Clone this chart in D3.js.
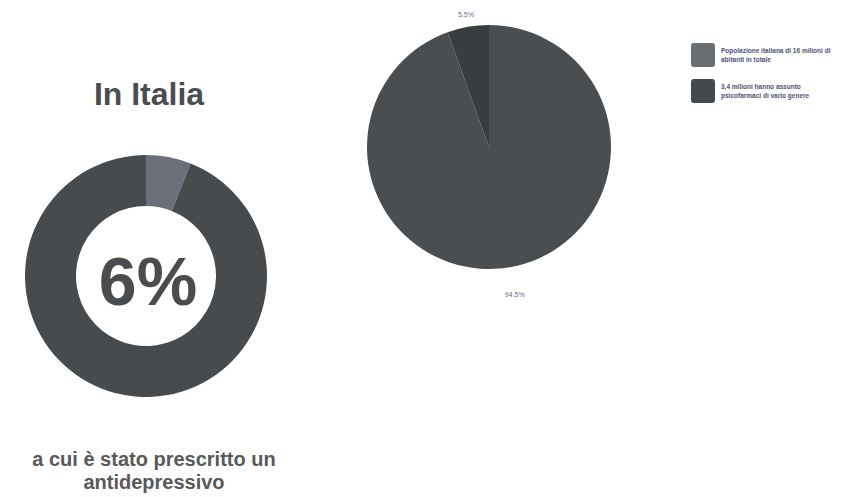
<!DOCTYPE html>
<html>
<head>
<meta charset="utf-8">
<script src="https://cdn.jsdelivr.net/npm/d3@7"></script>
<style>
  body { margin: 0; background: #fff; }
  svg { font-family: "Liberation Sans", Arial, sans-serif; }
</style>
</head>
<body>
<div id="vis"></div>
<script>
// donut: share prescribed an antidepressant
var donutLabels = ['antidepressivo', 'altri'];
var donutValues = [6, 94];

// pie: population vs psychotropic users
var pieLabels = [
  ['Popolazione italiana di 16 milioni di', 'abitanti in totale'],
  ['3,4 milioni hanno assunto', 'psicofarmaci di vario genere']
];
var pieValues = [94.5, 5.5];

var width = 857;
var height = 497;

var svg = d3.select('#vis')
  .append('svg')
  .attr('width', width)
  .attr('height', height);

// ---- donut ----
var donutColor = d3.scaleOrdinal().domain(donutLabels).range(['#6c6f79', '#474b4d']);

var donutPie = d3.pie().sort(null).value(function (d) { return d; });
var donutArc = d3.arc().innerRadius(70).outerRadius(121);

var donut = svg.append('g').attr('transform', 'translate(146,276)');

donut.selectAll('path')
  .data(donutPie(donutValues))
  .enter()
  .append('path')
  .attr('d', donutArc)
  .attr('fill', function (d, i) { return donutColor(donutLabels[i]); });

donut.append('text')
  .attr('text-anchor', 'middle')
  .attr('x', 2)
  .attr('y', 29)
  .attr('font-size', 68)
  .attr('font-weight', 'bold')
  .attr('fill', '#4a4d4f')
  .text(donutValues[0] + '%');

svg.append('text')
  .attr('x', 149)
  .attr('y', 105)
  .attr('text-anchor', 'middle')
  .attr('font-size', 32)
  .attr('font-weight', 'bold')
  .attr('fill', '#4a4e50')
  .text('In Italia');

svg.append('text')
  .attr('x', 154)
  .attr('y', 466)
  .attr('text-anchor', 'middle')
  .attr('font-size', 20)
  .attr('font-weight', 'bold')
  .attr('fill', '#58595b')
  .text('a cui è stato prescritto un');

svg.append('text')
  .attr('x', 154)
  .attr('y', 489)
  .attr('text-anchor', 'middle')
  .attr('font-size', 20)
  .attr('font-weight', 'bold')
  .attr('fill', '#58595b')
  .text('antidepressivo');

// ---- pie ----
var pieColor = d3.scaleOrdinal().domain([0, 1]).range(['#4a4e50', '#3a3d3f']);
var legendColor = d3.scaleOrdinal().domain([0, 1]).range(['#6b6e70', '#46494b']);

var pieLayout = d3.pie().sort(null).value(function (d) { return d; });
var pieArc = d3.arc().innerRadius(0).outerRadius(122);

var pieG = svg.append('g').attr('transform', 'translate(489,147)');

var slices = pieLayout(pieValues);

pieG.selectAll('path')
  .data(slices)
  .enter()
  .append('path')
  .attr('d', pieArc)
  .attr('fill', function (d, i) { return pieColor(i); });

// percentage labels outside the pie
function labelRadius(d) { return d.data > 50 ? 150 : 134; }
var labelArc = d3.arc().innerRadius(labelRadius).outerRadius(labelRadius);

pieG.selectAll('.plabel')
  .data(slices)
  .enter()
  .append('text')
  .attr('class', 'plabel')
  .attr('transform', function (d) {
    var c = labelArc.centroid(d);
    return 'translate(' + c[0] + ',' + (c[1] + 2.5) + ')';
  })
  .attr('text-anchor', 'middle')
  .attr('font-size', 7)
  .attr('fill', '#6a6e8a')
  .text(function (d) { return d.data + '%'; });

// legend
var legend = svg.selectAll('.legend')
  .data(pieLabels)
  .enter()
  .append('g')
  .attr('class', 'legend')
  .attr('transform', function (d, i) { return 'translate(691,' + (43 + i * 36) + ')'; });

legend.append('rect')
  .attr('width', 24)
  .attr('height', 24)
  .attr('rx', 3)
  .attr('fill', function (d, i) { return legendColor(i); });

legend.each(function (d) {
  var t = d3.select(this).append('text')
    .attr('font-size', 6.5)
    .attr('font-weight', 'bold')
    .attr('fill', '#4f5378');
  t.selectAll('tspan')
    .data(d)
    .enter()
    .append('tspan')
    .attr('x', 30)
    .attr('y', function (l, j) { return 10 + j * 9; })
    .text(function (l) { return l; });
});
</script>
</body>
</html>
